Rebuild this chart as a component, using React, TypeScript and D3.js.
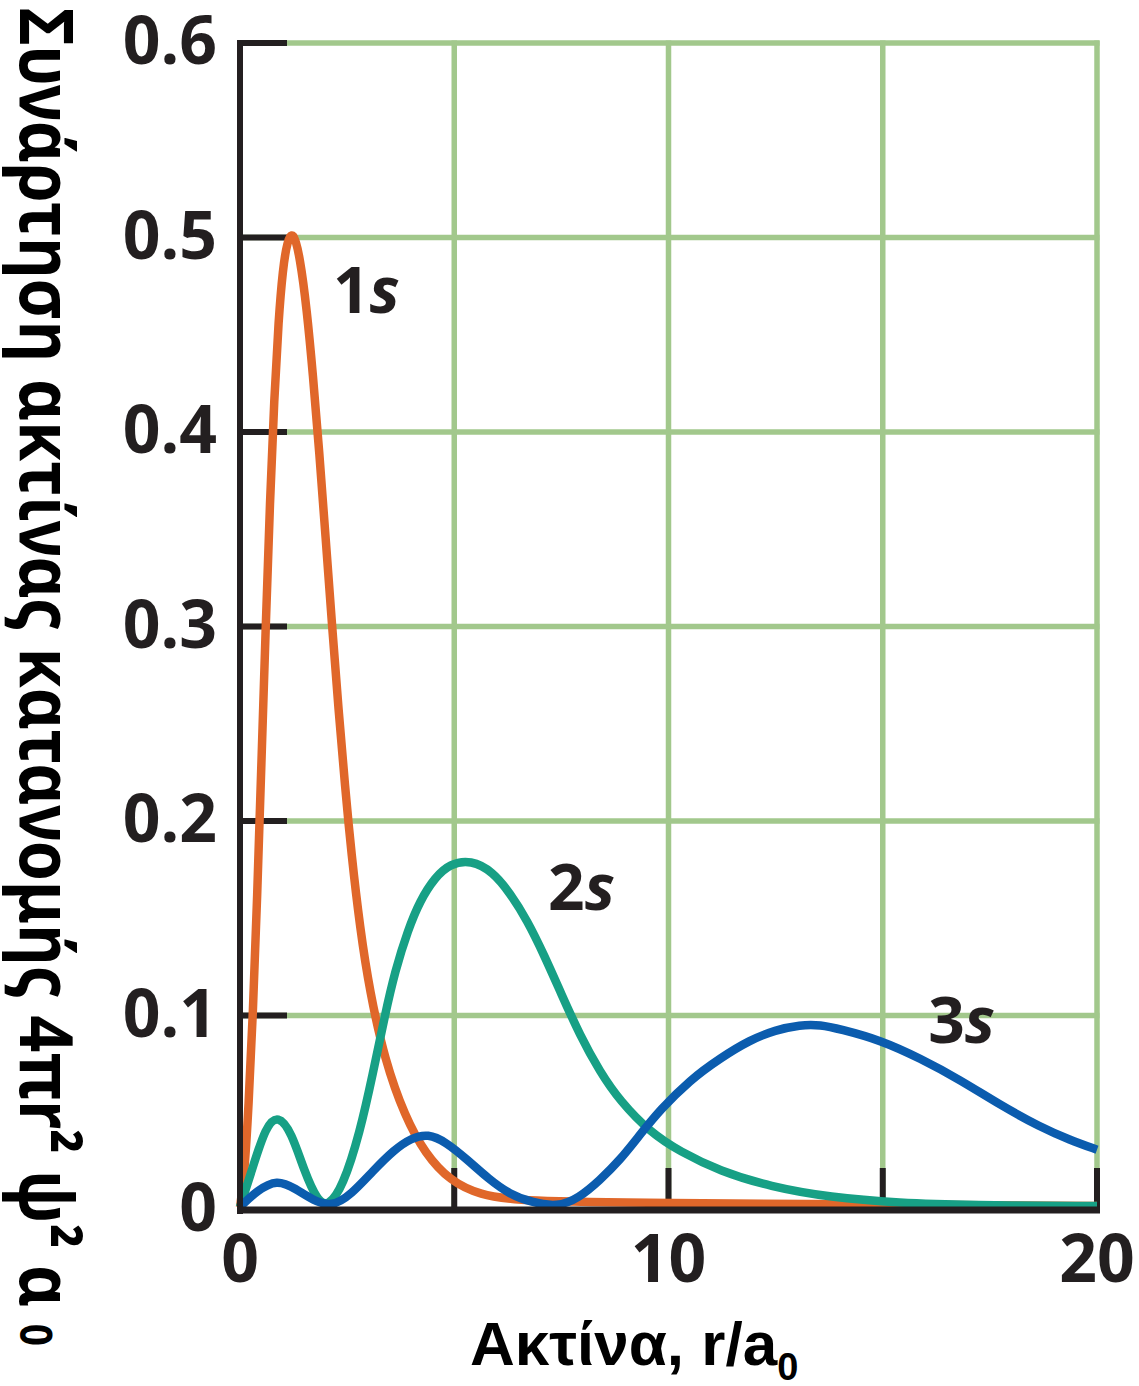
import React, { useEffect, useRef } from 'react';
import * as d3 from 'd3';

// values: r/a0 and 4πr²ψ²a0
const r1s = [0, 0.1, 0.2, 0.3, 0.4, 0.5, 0.6, 0.7, 0.8, 0.9, 1.0, 1.1, 1.24, 1.4, 1.56, 1.7, 1.85, 2.0, 2.15, 2.3, 2.45, 2.6, 2.8, 3.03, 3.38, 3.85, 4.32, 4.9, 5.6, 6.5, 10, 14, 20];
const p1s = [0, 0.017, 0.053, 0.1, 0.16, 0.23, 0.3, 0.365, 0.418, 0.458, 0.484, 0.498, 0.504, 0.49, 0.463, 0.43, 0.39, 0.345, 0.3, 0.257, 0.218, 0.183, 0.145, 0.112, 0.077, 0.048, 0.029, 0.015, 0.0077, 0.0045, 0.0035, 0.003, 0.002];

const r2s = [0, 0.3, 0.6, 0.89, 1.2, 1.5, 1.8, 2.05, 2.4, 2.8, 3.1, 3.38, 3.62, 3.92, 4.2, 4.55, 4.9, 5.39, 5.9, 6.3, 6.7, 7.1, 7.5, 7.93, 8.4, 8.87, 9.57, 10.27, 11.2, 12.37, 13.77, 15.4, 17, 20];
const p2s = [0, 0.022, 0.043, 0.049, 0.04, 0.02, 0.005, 0.001, 0.012, 0.04, 0.07, 0.1, 0.123, 0.144, 0.159, 0.171, 0.178, 0.18, 0.174, 0.163, 0.149, 0.131, 0.111, 0.09, 0.071, 0.056, 0.04, 0.03, 0.02, 0.012, 0.0065, 0.0036, 0.0025, 0.002];

const r3s = [0, 0.4, 0.86, 1.3, 1.7, 2.14, 2.6, 3.1, 3.6, 4.0, 4.39, 4.8, 5.3, 5.8, 6.3, 6.8, 7.4, 7.9, 8.4, 8.87, 9.33, 9.8, 10.5, 11.2, 11.9, 12.49, 13.07, 13.55, 14.0, 14.94, 15.87, 16.8, 17.74, 18.67, 19.37, 20];
const p3s = [0, 0.01, 0.0158, 0.011, 0.005, 0.001, 0.008, 0.02, 0.031, 0.037, 0.0392, 0.035, 0.026, 0.016, 0.008, 0.004, 0.001, 0.006, 0.0154, 0.0257, 0.0386, 0.0514, 0.0668, 0.078, 0.0874, 0.0925, 0.0952, 0.0952, 0.093, 0.0874, 0.078, 0.067, 0.054, 0.0427, 0.036, 0.031];

const series = [
  { name: '1s', r: r1s, p: p1s, color: '#e0672a', lx: 2.17, ly: 0.461 },
  { name: '2s', r: r2s, p: p2s, color: '#17a085', lx: 7.19, ly: 0.154 },
  { name: '3s', r: r3s, p: p3s, color: '#0b5cae', lx: 16.06, ly: 0.086 },
];

const yTicks = [0, 0.1, 0.2, 0.3, 0.4, 0.5, 0.6];
const xGrid = [5, 10, 15, 20];
const xLabels = [0, 10, 20];

const ink = '#231f20';
const gridGreen = '#a2c88c';

export default function App() {
  const ref = useRef<SVGSVGElement>(null);

  useEffect(() => {
    const width = 1139, height = 1386;
    const svg = d3.select(ref.current);
    svg.selectAll('*').remove();

    const x = d3.scaleLinear().domain([0, 20]).range([240, 1097]);
    const y = d3.scaleLinear().domain([0, 0.6]).range([1210, 43]);

    // green grid
    const grid = svg.append('g').attr('stroke', gridGreen).attr('stroke-width', 5.5);
    grid.selectAll('.h').data(yTicks.filter(d => d > 0)).join('line')
      .attr('x1', x(0)).attr('x2', x(20) + 2.5)
      .attr('y1', d => y(d)).attr('y2', d => y(d));
    grid.selectAll('.v').data(xGrid).join('line')
      .attr('x1', d => x(d)).attr('x2', d => x(d))
      .attr('y1', y(0.6) - 2.5).attr('y2', y(0));

    // black ticks
    const ticks = svg.append('g').attr('stroke', ink).attr('stroke-width', 6);
    ticks.selectAll('.yt').data(yTicks.filter(d => d > 0)).join('line')
      .attr('x1', x(0)).attr('x2', x(0) + 47)
      .attr('y1', d => y(d)).attr('y2', d => y(d));
    ticks.selectAll('.xt').data(xGrid).join('line')
      .attr('x1', d => x(d)).attr('x2', d => x(d))
      .attr('y1', y(0)).attr('y2', y(0) - 42);

    // curves
    const line = d3.line<[number, number]>()
      .curve(d3.curveBasis)
      .x(d => x(d[0]))
      .y(d => Math.min(y(d[1]), y(0) - 3));

    series.forEach(s => {
      const pts: [number, number][] = s.r.map((r, i) => [r, s.p[i]]);
      svg.append('path')
        .datum(pts)
        .attr('fill', 'none')
        .attr('stroke', s.color)
        .attr('stroke-width', 8.5)
        .attr('stroke-linejoin', 'round')
        .attr('d', line);
    });

    // axes lines
    svg.append('line')
      .attr('x1', x(0)).attr('x2', x(0))
      .attr('y1', y(0.6) - 3).attr('y2', y(0) + 4)
      .attr('stroke', ink).attr('stroke-width', 6);
    svg.append('line')
      .attr('x1', x(0) - 3).attr('x2', x(20) + 3)
      .attr('y1', y(0)).attr('y2', y(0))
      .attr('stroke', ink).attr('stroke-width', 7);

    // curve labels
    series.forEach(s => {
      const t = svg.append('text')
        .attr('x', x(s.lx)).attr('y', y(s.ly))
        .attr('font-family', '"Open Sans", sans-serif')
        .attr('font-weight', 700)
        .attr('font-size', 64)
        .attr('fill', ink);
      t.append('tspan').text(s.name[0]);
      t.append('tspan').attr('font-style', 'italic').text(s.name[1]);
    });

    // y tick labels
    svg.append('g').selectAll('text').data(yTicks).join('text')
      .attr('x', 217)
      .attr('y', d => y(d) + 21)
      .attr('text-anchor', 'end')
      .attr('font-family', '"Open Sans", sans-serif')
      .attr('font-weight', 700)
      .attr('font-size', 66)
      .attr('fill', ink)
      .text(d => d === 0 ? '0' : d3.format('.1f')(d));

    // x tick labels
    svg.append('g').selectAll('text').data(xLabels).join('text')
      .attr('x', d => x(d))
      .attr('y', 1282)
      .attr('text-anchor', 'middle')
      .attr('font-family', '"Open Sans", sans-serif')
      .attr('font-weight', 700)
      .attr('font-size', 66)
      .attr('fill', ink)
      .text(d => d);

    // x title
    const xt = svg.append('text')
      .attr('x', 470).attr('y', 1365)
      .attr('font-family', '"Liberation Sans", Arial, sans-serif')
      .attr('font-weight', 700)
      .attr('font-size', 62)
      .attr('fill', '#000');
    xt.append('tspan').text('Ακτίνα, r/a');
    xt.append('tspan').attr('font-size', 38).attr('dy', 15).text('0');

    // y title
    const yt = svg.append('text')
      .attr('transform', 'translate(20,8) rotate(90)')
      .attr('font-family', '"Noto Sans", "Open Sans", sans-serif')
      .attr('font-weight', 700)
      .attr('font-size', 74)
      .attr('fill', '#000')
      .attr('textLength', 1338)
      .attr('lengthAdjust', 'spacingAndGlyphs');
    yt.append('tspan').text('Συνάρτηση ακτίνας κατανομής 4πr² ψ² α ');
    yt.append('tspan').attr('font-size', 44).text('0');

    svg.attr('width', width).attr('height', height);
  }, []);

  return (
    <svg
      ref={ref}
      style={{ position: 'absolute', left: 0, top: 0, background: '#fff' }}
    />
  );
}
